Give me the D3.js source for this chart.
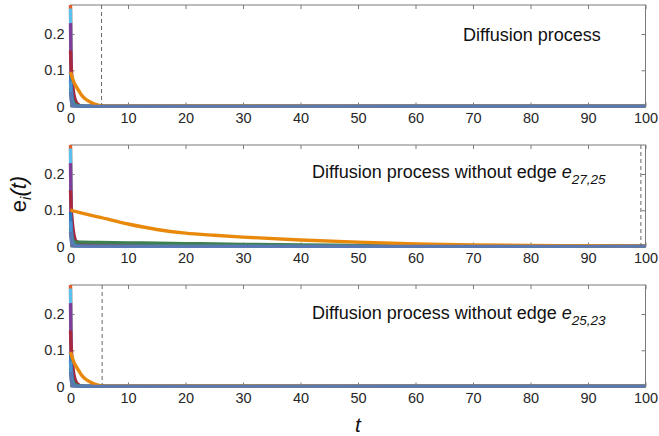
<!DOCTYPE html>
<html>
<head>
<meta charset="utf-8">
<script src="https://cdn.jsdelivr.net/npm/d3@7"></script>
<style>
  body { margin: 0; background: #fff; }
  svg { display: block; font-family: "Liberation Sans", Arial, sans-serif; }
  .axis text { fill: #262626; font-size: 14.5px; }
  .axis path, .axis line { stroke: #7a7a7a; }
</style>
</head>
<body>
<svg width="659" height="436"></svg>
<script>
// time samples
var tFast = [0, 0.1, 0.25, 0.5, 0.75, 1, 1.5, 2, 2.5, 3, 4, 5, 6, 100];
var tSlow = [0, 0.1, 0.25, 0.5, 0.75, 1, 2, 5, 10, 15, 20, 25, 30, 40, 50, 60, 70, 80, 90, 100];

var xTicks = [0, 10, 20, 30, 40, 50, 60, 70, 80, 90, 100];
var yTicks = [0, 0.1, 0.2];

var seriesColors = ["#e0622a", "#5bc0eb", "#7e3f98", "#a8283f", "#2a78c0", "#3e7f50", "#4a8fcf", "#e8890c", "#5b79b0"];

// full diffusion (values at tFast)
var fullN1 = [0.28, 0.12, 0.04, 0.012, 0.004, 0.002, 0.001, 0, 0, 0, 0, 0, 0, 0];
var fullN2 = [0.27, 0.11, 0.035, 0.01, 0.004, 0.002, 0.001, 0, 0, 0, 0, 0, 0, 0];
var fullN3 = [0.23, 0.10, 0.035, 0.012, 0.005, 0.002, 0.001, 0, 0, 0, 0, 0, 0, 0];
var fullN4 = [0.155, 0.115, 0.078, 0.042, 0.022, 0.012, 0.004, 0.001, 0, 0, 0, 0, 0, 0];
var fullN5 = [0.095, 0.06, 0.03, 0.012, 0.006, 0.003, 0.001, 0, 0, 0, 0, 0, 0, 0];
var fullN6 = [0.05, 0.035, 0.022, 0.012, 0.007, 0.004, 0.002, 0.001, 0, 0, 0, 0, 0, 0];
var fullN7 = [0.07, 0.04, 0.018, 0.006, 0.002, 0.001, 0, 0, 0, 0, 0, 0, 0, 0];
var fullN8 = [0.095, 0.09, 0.082, 0.071, 0.062, 0.055, 0.042, 0.03, 0.022, 0.016, 0.008, 0.003, 0.001, 0];
var fullN9 = [0.04, 0.02, 0.008, 0.003, 0.001, 0, 0, 0, 0, 0, 0, 0, 0, 0];

// without edge e27,25 (values at tSlow)
var cut1N1 = [0.28, 0.12, 0.045, 0.018, 0.011, 0.009, 0.008, 0.007, 0.006, 0.005, 0.004, 0.003, 0.003, 0.002, 0.001, 0.001, 0, 0, 0, 0];
var cut1N2 = [0.27, 0.11, 0.035, 0.01, 0.004, 0.002, 0.001, 0, 0, 0, 0, 0, 0, 0, 0, 0, 0, 0, 0, 0];
var cut1N3 = [0.23, 0.10, 0.035, 0.012, 0.005, 0.003, 0.002, 0.001, 0, 0, 0, 0, 0, 0, 0, 0, 0, 0, 0, 0];
var cut1N4 = [0.155, 0.115, 0.078, 0.042, 0.022, 0.014, 0.009, 0.008, 0.007, 0.006, 0.005, 0.004, 0.003, 0.002, 0.001, 0.001, 0, 0, 0, 0];
var cut1N5 = [0.095, 0.06, 0.03, 0.012, 0.006, 0.003, 0.001, 0, 0, 0, 0, 0, 0, 0, 0, 0, 0, 0, 0, 0];
var cut1N6 = [0.05, 0.035, 0.024, 0.016, 0.013, 0.012, 0.012, 0.011, 0.010, 0.009, 0.008, 0.007, 0.006, 0.004, 0.003, 0.002, 0.001, 0.001, 0, 0];
var cut1N7 = [0.07, 0.04, 0.018, 0.006, 0.002, 0.001, 0, 0, 0, 0, 0, 0, 0, 0, 0, 0, 0, 0, 0, 0];
var cut1N8 = [0.1, 0.1, 0.099, 0.098, 0.097, 0.096, 0.092, 0.081, 0.062, 0.047, 0.037, 0.031, 0.026, 0.018, 0.012, 0.007, 0.004, 0.003, 0.002, 0.001];
var cut1N9 = [0.04, 0.02, 0.008, 0.003, 0.001, 0, 0, 0, 0, 0, 0, 0, 0, 0, 0, 0, 0, 0, 0, 0];

// without edge e25,23 (values at tFast)
var cut2N1 = [0.28, 0.12, 0.04, 0.012, 0.004, 0.002, 0.001, 0, 0, 0, 0, 0, 0, 0];
var cut2N2 = [0.27, 0.11, 0.035, 0.01, 0.004, 0.002, 0.001, 0, 0, 0, 0, 0, 0, 0];
var cut2N3 = [0.23, 0.10, 0.035, 0.012, 0.005, 0.002, 0.001, 0, 0, 0, 0, 0, 0, 0];
var cut2N4 = [0.155, 0.115, 0.078, 0.042, 0.022, 0.012, 0.004, 0.001, 0, 0, 0, 0, 0, 0];
var cut2N5 = [0.095, 0.06, 0.03, 0.012, 0.006, 0.003, 0.001, 0, 0, 0, 0, 0, 0, 0];
var cut2N6 = [0.05, 0.035, 0.022, 0.012, 0.007, 0.004, 0.002, 0.001, 0, 0, 0, 0, 0, 0];
var cut2N7 = [0.07, 0.04, 0.018, 0.006, 0.002, 0.001, 0, 0, 0, 0, 0, 0, 0, 0];
var cut2N8 = [0.095, 0.09, 0.082, 0.071, 0.062, 0.055, 0.042, 0.03, 0.022, 0.016, 0.008, 0.003, 0.001, 0];
var cut2N9 = [0.04, 0.02, 0.008, 0.003, 0.001, 0, 0, 0, 0, 0, 0, 0, 0, 0];

// settling time markers (dashed lines)
var settleTimes = [5.4, 99.2, 5.5];

var panels = [
  {title: "Diffusion process", sub: null, t: tFast, settle: settleTimes[0],
   series: [fullN1, fullN2, fullN3, fullN4, fullN5, fullN6, fullN7, fullN8, fullN9]},
  {title: "Diffusion process without edge ", sub: "27,25", t: tSlow, settle: settleTimes[1],
   series: [cut1N1, cut1N2, cut1N3, cut1N4, cut1N5, cut1N6, cut1N7, cut1N8, cut1N9]},
  {title: "Diffusion process without edge ", sub: "25,23", t: tFast, settle: settleTimes[2],
   series: [cut2N1, cut2N2, cut2N3, cut2N4, cut2N5, cut2N6, cut2N7, cut2N8, cut2N9]}
];

var svg = d3.select("svg"),
    left = 70.5, right = 645.5,
    width = right - left,
    height = 101.5,
    tops = [5, 145, 285],
    titlePos = [{x: 463, y: 41}, {x: 312, y: 178}, {x: 312, y: 319}];

var x = d3.scaleLinear().domain([0, 100]).range([0, width]);
var y = d3.scaleLinear().domain([0, 0.28]).range([height, 0]);

var line = d3.line()
    .curve(d3.curveMonotoneX)
    .x(function(d) { return x(d[0]); })
    .y(function(d) { return y(d[1]); });

panels.forEach(function(p, i) {
  var g = svg.append("g")
      .attr("transform", "translate(" + left + "," + tops[i] + ")");

  svg.append("defs").append("clipPath")
      .attr("id", "clip" + i)
    .append("rect")
      .attr("x", -3)
      .attr("y", -1)
      .attr("width", width + 3)
      .attr("height", height + 2);

  // box and axes first, data drawn over them
  g.append("rect")
      .attr("width", width)
      .attr("height", height)
      .attr("fill", "none")
      .attr("stroke", "#7a7a7a")
      .attr("stroke-width", 1);

  g.append("g")
      .attr("class", "axis")
      .attr("transform", "translate(0," + height + ")")
      .call(d3.axisBottom(x).tickValues(xTicks).tickSize(-4).tickPadding(6).tickSizeOuter(0));
  g.append("g")
      .attr("class", "axis")
      .call(d3.axisTop(x).tickValues(xTicks).tickSize(-4).tickFormat("").tickSizeOuter(0));
  g.append("g")
      .attr("class", "axis")
      .call(d3.axisLeft(y).tickValues(yTicks).tickSize(-4).tickPadding(6).tickSizeOuter(0)
        .tickFormat(function(d) { return d === 0 ? "0" : d3.format(".1f")(d); }));
  g.append("g")
      .attr("class", "axis")
      .attr("transform", "translate(" + width + ",0)")
      .call(d3.axisRight(y).tickValues(yTicks).tickSize(-4).tickFormat("").tickSizeOuter(0));
  g.selectAll(".axis .domain").remove();

  var lines = g.append("g").attr("clip-path", "url(#clip" + i + ")");

  lines.selectAll(".series")
      .data(p.series)
    .enter().append("path")
      .attr("class", "series")
      .attr("fill", "none")
      .attr("stroke", function(d, k) { return seriesColors[k]; })
      .attr("stroke-width", 3.4)
      .attr("stroke-linejoin", "round")
      .attr("d", function(d) {
        return line(d.map(function(v, k) { return [p.t[k], v]; }));
      });

  // baseline drawn by the many near-zero nodes
  lines.append("path")
      .attr("fill", "none")
      .attr("stroke", seriesColors[8])
      .attr("stroke-width", 3)
      .attr("d", line([[0.15, 0], [100, 0]]));

  g.append("line")
      .attr("x1", x(p.settle)).attr("x2", x(p.settle))
      .attr("y1", 0).attr("y2", height - 1.5)
      .attr("stroke", "#666")
      .attr("stroke-width", 1)
      .attr("stroke-dasharray", "4,3");

  var title = svg.append("text")
      .attr("x", titlePos[i].x)
      .attr("y", titlePos[i].y)
      .attr("font-size", 18)
      .attr("fill", "#111")
      .text(p.title);
  if (p.sub) {
    title.append("tspan")
        .attr("font-style", "italic")
        .text("e");
    title.append("tspan")
        .attr("font-style", "italic")
        .attr("font-size", 13.5)
        .attr("dy", 6)
        .text(p.sub);
  }
});

// axis titles
var yLabel = svg.append("text")
    .attr("transform", "translate(26,194)rotate(-90)")
    .attr("text-anchor", "middle")
    .attr("font-size", 22)
    .attr("fill", "#111");
yLabel.append("tspan").text("e");
yLabel.append("tspan").attr("font-style", "italic").attr("font-size", 15).attr("dy", 5).text("i");
yLabel.append("tspan").attr("font-style", "italic").attr("dy", -5).text("(t)");

svg.append("text")
    .attr("x", 358)
    .attr("y", 432)
    .attr("text-anchor", "middle")
    .attr("font-size", 21)
    .attr("font-style", "italic")
    .attr("fill", "#111")
    .text("t");
</script>
</body>
</html>
